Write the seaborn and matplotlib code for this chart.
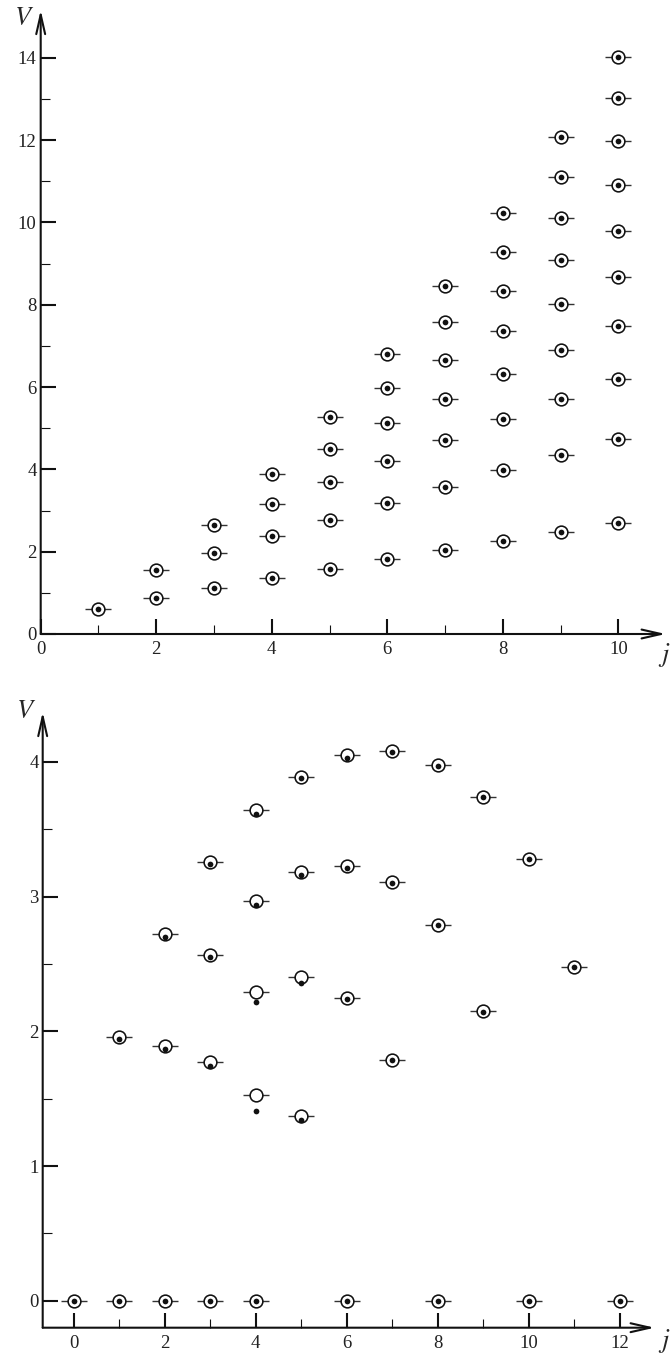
import numpy as np
import pandas as pd
import matplotlib
matplotlib.use("Agg")
import matplotlib.pyplot as plt
import seaborn as sns

# ---- upper panel: levels V for each j ----
top_j = [1,
         2, 2,
         3, 3, 3,
         4, 4, 4, 4,
         5, 5, 5, 5, 5,
         6, 6, 6, 6, 6, 6,
         7, 7, 7, 7, 7, 7, 7,
         8, 8, 8, 8, 8, 8, 8, 8,
         9, 9, 9, 9, 9, 9, 9, 9, 9,
         10, 10, 10, 10, 10, 10, 10, 10, 10, 10]
top_v = [0.61,
         1.55, 0.87,
         2.65, 1.98, 1.12,
         3.88, 3.17, 2.38, 1.35,
         5.28, 4.50, 3.70, 2.78, 1.58,
         6.80, 5.97, 5.12, 4.20, 3.18, 1.82,
         8.45, 7.57, 6.65, 5.72, 4.72, 3.58, 2.03,
         10.22, 9.28, 8.33, 7.35, 6.32, 5.22, 3.98, 2.27,
         12.08, 11.10, 10.10, 9.08, 8.02, 6.90, 5.72, 4.35, 2.48,
         14.03, 13.02, 11.97, 10.90, 9.80, 8.67, 7.48, 6.20, 4.73, 2.70]

# ---- lower panel: open circles (with bar) and filled dots ----
bot_j = [0, 1, 2, 3, 4, 6, 8, 10, 12,
         1,
         2, 2,
         3, 3, 3,
         4, 4, 4, 4,
         5, 5, 5, 5,
         6, 6, 6,
         7, 7, 7,
         8, 8,
         9, 9,
         10,
         11]
bot_circle = [0, 0, 0, 0, 0, 0, 0, 0, 0,
              1.96,
              2.72, 1.89,
              3.26, 2.57, 1.77,
              3.64, 2.97, 2.29, 1.53,
              3.89, 3.18, 2.40, 1.37,
              4.05, 3.23, 2.25,
              4.08, 3.11, 1.79,
              3.98, 2.79,
              3.74, 2.15,
              3.28,
              2.48]
bot_dot = [0, 0, 0, 0, 0, 0, 0, 0, 0,
           1.94,
           2.70, 1.87,
           3.24, 2.55, 1.74,
           3.61, 2.94, 2.22, 1.41,
           3.88, 3.16, 2.36, 1.34,
           4.03, 3.21, 2.24,
           4.07, 3.10, 1.79,
           3.97, 2.79,
           3.74, 2.14,
           3.28,
           2.48]

top_df = pd.DataFrame({"j": top_j, "V": top_v})
bot_circ_df = pd.DataFrame({"j": bot_j, "V": bot_circle})
bot_dot_df = pd.DataFrame({"j": bot_j, "V": bot_dot})

sns.set_theme(style="white")
plt.rcParams["font.family"] = ["Liberation Serif", "DejaVu Serif"]
plt.rcParams["mathtext.fontset"] = "stix"

W, H = 671, 1353
fig = plt.figure(figsize=(W / 100, H / 100), dpi=100)
fig.patch.set_facecolor("white")


def px_axes(left, top, right, bottom):
    return fig.add_axes([left / W, 1 - bottom / H, (right - left) / W, (bottom - top) / H])


ax1 = px_axes(40.7, 10, 665.7, 634)
ax2 = px_axes(42.7, 712, 654.7, 1327.7)

ax1.set_xlim(0, 10.82)
ax1.set_ylim(0, 15.16)
ax2.set_xlim(-0.68, 12.77)
ax2.set_ylim(-0.2, 4.37)


def draw_markers(ax, circ_df, dot_df):
    # short horizontal bar behind each circle
    sns.scatterplot(data=circ_df, x="j", y="V", ax=ax, marker="_", s=340,
                    color="#333333", linewidth=1.0, zorder=3, legend=False)
    # open circles
    sns.scatterplot(data=circ_df, x="j", y="V", ax=ax, marker="o", s=84,
                    facecolor="white", edgecolor="#111111", linewidth=1.15,
                    zorder=4, legend=False)
    # filled dots
    sns.scatterplot(data=dot_df, x="j", y="V", ax=ax, marker="o", s=17,
                    color="#111111", linewidth=0, zorder=5, legend=False)


draw_markers(ax1, top_df, top_df)
draw_markers(ax2, bot_circ_df, bot_dot_df)

for ax in (ax1, ax2):
    for s in ax.spines.values():
        s.set_visible(False)
    ax.set_xlabel("")
    ax.set_ylabel("")
    ax.grid(False)
    ax.set_facecolor("none")
    # axis lines with arrow heads
    arrow = dict(arrowstyle="->,head_length=0.7,head_width=0.16", lw=1.5,
                 color="#111111", shrinkA=0, shrinkB=0, mutation_scale=20)
    ax.annotate("", xy=(1, 0), xytext=(0, 0), xycoords="axes fraction",
                arrowprops=arrow, annotation_clip=False)
    ax.annotate("", xy=(0, 1), xytext=(0, 0), xycoords="axes fraction",
                arrowprops=arrow, annotation_clip=False)
    ax.tick_params(which="major", direction="in", length=11, width=1.5,
                   color="#111111", labelsize=13.5, labelcolor="#222222",
                   left=True, bottom=True)
    ax.tick_params(which="minor", direction="in", length=6.5, width=0.8,
                   color="#111111", left=True, bottom=True)
    ax.tick_params(axis="x", pad=5)
    ax.tick_params(axis="y", pad=3)

ax1.set_xticks(np.arange(0, 11, 2))
ax1.set_xticks(np.arange(1, 11, 2), minor=True)
ax1.set_yticks(np.arange(0, 15, 2))
ax1.set_yticks(np.arange(1, 15, 2), minor=True)

ax2.set_xticks(np.arange(0, 13, 2))
ax2.set_xticks(np.arange(1, 13, 2), minor=True)
ax2.set_yticks(np.arange(0, 5, 1))
ax2.set_yticks(np.arange(0.5, 4.5, 1), minor=True)

# axis names
fig.text(24 / W, 1 - 19 / H, "$V$", fontsize=19, ha="center", va="center")
fig.text(664 / W, 1 - 655 / H, "$j$", fontsize=19, ha="center", va="center")
fig.text(26 / W, 1 - 712 / H, "$V$", fontsize=19, ha="center", va="center")
fig.text(664 / W, 1 - 1341 / H, "$j$", fontsize=19, ha="center", va="center")

fig.savefig("out.png", dpi=100, facecolor="white")
